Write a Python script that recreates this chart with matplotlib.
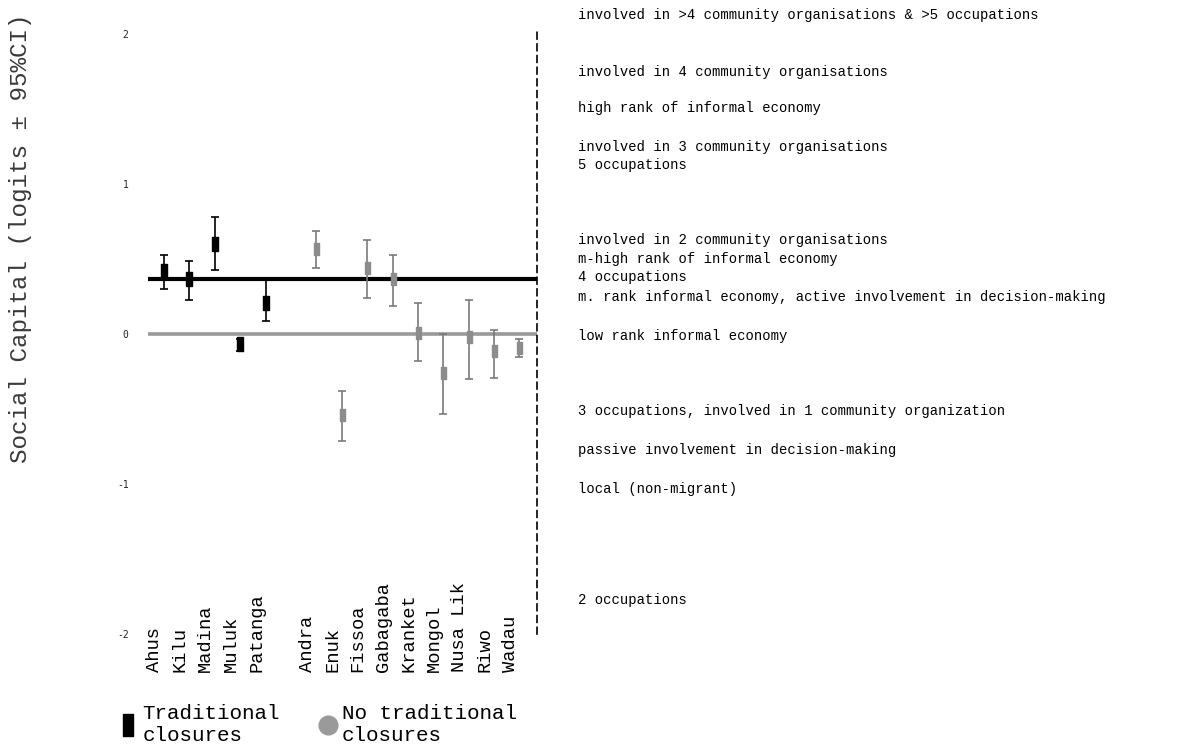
import matplotlib
matplotlib.use("Agg")
import matplotlib.pyplot as plt
import matplotlib.transforms as mtransforms
from matplotlib.lines import Line2D

# ---------------- data ----------------
trad_sites = ["Ahus", "Kilu", "Madina", "Muluk", "Patanga"]
trad_vals = [0.42, 0.37, 0.60, -0.065, 0.21]
trad_hi = [0.53, 0.49, 0.78, -0.03, 0.37]
trad_lo = [0.30, 0.23, 0.43, -0.11, 0.09]

non_sites = ["Andra", "Enuk", "Fissoa", "Gabagaba", "Kranket",
             "Mongol", "Nusa Lik", "Riwo", "Wadau"]
non_vals = [0.57, -0.54, 0.44, 0.37, 0.01, -0.26, -0.02, -0.11, -0.09]
non_hi = [0.69, -0.38, 0.63, 0.53, 0.21, 0.00, 0.23, 0.03, -0.03]
non_lo = [0.44, -0.71, 0.24, 0.19, -0.18, -0.53, -0.30, -0.29, -0.15]

trad_mean = 0.37
non_mean = 0.0

y_ticks = [2, 1, 0, -1, -2]

annot_y = [2.13, 1.75, 1.51, 1.25, 1.13, 0.63, 0.50, 0.38, 0.25, -0.01,
           -0.51, -0.77, -1.03, -1.77]
annot_text = [
    "involved in >4 community organisations & >5 occupations",
    "involved in 4 community organisations",
    "high rank of informal economy",
    "involved in 3 community organisations",
    "5 occupations",
    "involved in 2 community organisations",
    "m-high rank of informal economy",
    "4 occupations",
    "m. rank informal economy, active involvement in decision-making",
    "low rank informal economy",
    "3 occupations, involved in 1 community organization",
    "passive involvement in decision-making",
    "local (non-migrant)",
    "2 occupations",
]

# ---------------- figure ----------------
W, H = 1183, 747
fig = plt.figure(figsize=(W / 100, H / 100), dpi=100)
ax_left, ax_right = 148 / W, 537 / W
ax_top, ax_bot = 30 / H, 634 / H
ax = fig.add_axes([ax_left, 1 - ax_bot, ax_right - ax_left, ax_bot - ax_top])

mono = "Liberation Mono"

trad_x = list(range(len(trad_sites)))
non_x = [len(trad_sites) + 1 + i for i in range(len(non_sites))]

ax.set_xlim(-0.63, 14.69)
ax.set_ylim(-2.0, 2.03)

# mean lines
ax.axhline(trad_mean, color="black", lw=3.0, zorder=1)
ax.axhline(non_mean, color="#9a9a9a", lw=2.6, zorder=1)

rect = [(-0.45, -1), (0.45, -1), (0.45, 1), (-0.45, 1), (-0.45, -1)]

t_err = [[v - l for v, l in zip(trad_vals, trad_lo)],
         [h - v for v, h in zip(trad_vals, trad_hi)]]
ax.errorbar(trad_x, trad_vals, yerr=t_err, fmt="none", ecolor="black",
            elinewidth=1.2, capsize=2.6, capthick=1.2, zorder=3)
ax.plot(trad_x, trad_vals, linestyle="none", marker=rect, markersize=10,
        color="black", zorder=4)

n_err = [[v - l for v, l in zip(non_vals, non_lo)],
         [h - v for v, h in zip(non_vals, non_hi)]]
ax.errorbar(non_x, non_vals, yerr=n_err, fmt="none", ecolor="#7a7a7a",
            elinewidth=1.2, capsize=2.6, capthick=1.2, zorder=3)
ax.plot(non_x, non_vals, linestyle="none", marker=rect, markersize=8,
        color="#8c8c8c", zorder=4)

# axes styling
for s in ["top", "bottom", "left"]:
    ax.spines[s].set_visible(False)
ax.spines["right"].set_linestyle((0, (4, 3)))
ax.spines["right"].set_linewidth(1.2)
ax.set_xticks([])
ax.set_yticks(y_ticks)
ax.set_yticklabels([str(t) for t in y_ticks], fontsize=7,
                   family="DejaVu Sans Mono", color="#222222")
ax.tick_params(axis="y", length=0, pad=14)

# x category labels (bottom-aligned, rotated)
offset = mtransforms.ScaledTranslation(-9 / 100, 0, fig.dpi_scale_trans)
blend = mtransforms.blended_transform_factory(ax.transData, ax.transAxes) + offset
y_lab = -(672 - 634) / (634 - 30)
for x, name in zip(trad_x + non_x, trad_sites + non_sites):
    ax.text(x, y_lab, name, rotation=90, ha="center", va="bottom",
            fontsize=13.5, family=mono, color="black", transform=blend,
            clip_on=False)

# right-hand annotations
ann_tr = mtransforms.blended_transform_factory(fig.transFigure, ax.transData)
for y, t in zip(annot_y, annot_text):
    ax.text(578 / W, y, t, fontsize=10, family=mono, color="black",
            va="center", ha="left", transform=ann_tr, clip_on=False)

# y label
fig.text(21 / W, 1 - 238 / H, "Social Capital (logits \u00b1 95%CI)",
         rotation=90, ha="center", va="center", fontsize=17.5,
         family=mono, color="#3a3a3a")

# legend
handles = [
    Line2D([], [], linestyle="none", marker=rect, markersize=16,
           color="black"),
    Line2D([], [], linestyle="none", marker="o", markersize=13.5,
           color="#9a9a9a"),
]
fig.legend(handles, ["Traditional\nclosures", "No traditional\nclosures"],
           loc="lower left", bbox_to_anchor=(120 / W, 2 / H), ncol=2,
           frameon=False, handlelength=0.8, handletextpad=0.27,
           columnspacing=1.9, borderpad=0, borderaxespad=0,
           prop={"family": mono, "size": 15}, labelspacing=0.2)

fig.savefig("out.png", dpi=100)
